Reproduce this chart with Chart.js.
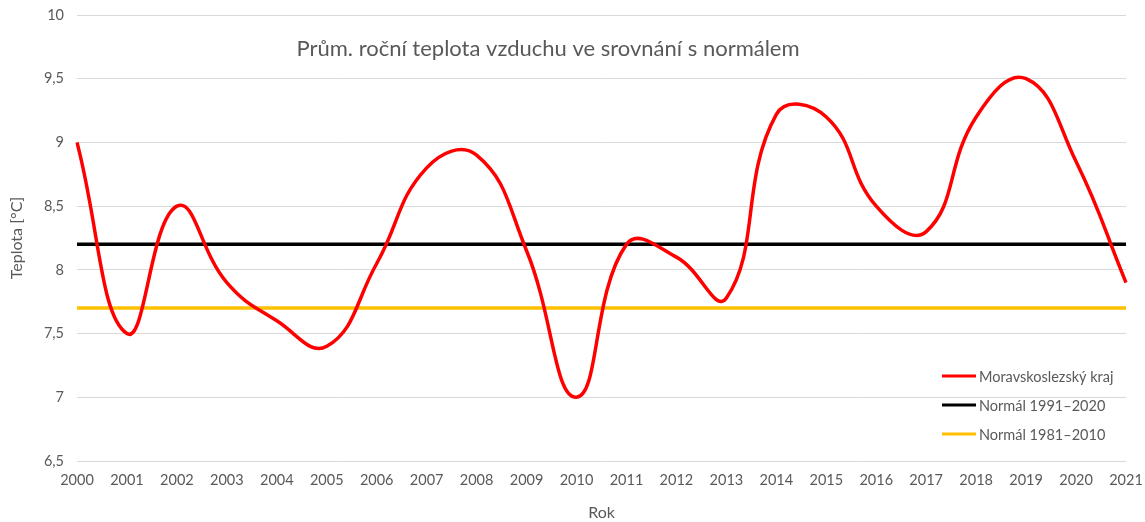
<!DOCTYPE html>
<html>
<head>
<meta charset="utf-8">
<script src="https://cdn.jsdelivr.net/npm/chart.js@4.4.1/dist/chart.umd.min.js"></script>
<style>
  html, body { margin: 0; padding: 0; background: #fff; }
  #wrap { position: relative; width: 1145px; height: 522px; }
</style>
</head>
<body>
<div id="wrap"><canvas id="c" width="1145" height="522"></canvas></div>
<script>
const years = ['2000','2001','2002','2003','2004','2005','2006','2007','2008','2009','2010','2011','2012','2013','2014','2015','2016','2017','2018','2019','2020','2021'];
const msk = [9.0, 7.5, 8.5, 7.9, 7.6, 7.4, 8.05, 8.8, 8.9, 8.15, 7.0, 8.2, 8.1, 7.78, 9.22, 9.2, 8.5, 8.3, 9.2, 9.5, 8.85, 7.9];
const normal9120 = 8.2;
const normal8110 = 7.7;
const seriesNames = ['Moravskoslezský kraj', 'Normál 1991–2020', 'Normál 1981–2010'];
const yTicks = { min: 6.5, max: 10, step: 0.5 };
const titleText = 'Prům. roční teplota vzduchu ve srovnání s normálem';
const FONT = 'Lato, "Open Sans", sans-serif';
const GRAY = '#595959';

const titlePlugin = {
  id: 'inTitle',
  afterDraw(chart) {
    const ctx = chart.ctx, a = chart.chartArea;
    ctx.save();
    ctx.font = '22px ' + FONT;
    ctx.fillStyle = GRAY;
    ctx.textAlign = 'center';
    ctx.textBaseline = 'middle';
    ctx.fillText(titleText, 548, 49);
    // legend
    const ds = chart.data.datasets;
    const order = [0, 1, 2];
    ctx.font = '14.5px ' + FONT;
    ctx.textAlign = 'left';
    order.forEach((i, k) => {
      const y = 376 + k * 29;
      ctx.strokeStyle = ds[i].borderColor;
      ctx.lineWidth = 3;
      ctx.beginPath();
      ctx.moveTo(942, y);
      ctx.lineTo(976, y);
      ctx.stroke();
      ctx.fillStyle = GRAY;
      ctx.fillText(ds[i].label, 979, y + 1);
    });
    ctx.restore();
  }
};

function zeroPad(s) { s.paddingTop = 0; s.paddingBottom = 0; s.paddingLeft = 0; s.paddingRight = 0; }

new Chart(document.getElementById('c'), {
  type: 'line',
  data: {
    labels: years,
    datasets: [
      { label: seriesNames[0], data: msk, borderColor: '#FF0000', borderWidth: 3.5, tension: 0.45, pointRadius: 0, order: 0 },
      { label: seriesNames[1], data: years.map(() => normal9120), borderColor: '#000000', borderWidth: 3.5, pointRadius: 0, order: 1 },
      { label: seriesNames[2], data: years.map(() => normal8110), borderColor: '#FFC000', borderWidth: 3.5, pointRadius: 0, order: 2 }
    ]
  },
  options: {
    responsive: false,
    animation: false,
    layout: { padding: { left: 0, right: 19, top: 15, bottom: 0 } },
    plugins: { legend: { display: false }, title: { display: false }, tooltip: { enabled: false } },
    scales: {
      x: {
        type: 'category',
        offset: false,
        grid: { display: false, drawTicks: false },
        border: { display: false },
        ticks: { color: GRAY, font: { family: FONT, size: 14.5 }, padding: 11, maxRotation: 0, autoSkip: false },
        title: { display: true, text: 'Rok', color: GRAY, font: { family: FONT, size: 16 }, padding: { top: 12, bottom: 0 } },
        afterFit(s) { s.height = 61; zeroPad(s); }
      },
      y: {
        min: yTicks.min, max: yTicks.max,
        grid: { color: '#d9d9d9', drawTicks: false, lineWidth: 1 },
        border: { display: false },
        ticks: { stepSize: yTicks.step, color: GRAY, font: { family: FONT, size: 14.5 }, padding: 13,
          callback: v => String(Math.round(v * 10) / 10).replace('.', ',') },
        title: { display: true, text: 'Teplota [°C]', color: GRAY, font: { family: FONT, size: 16 }, padding: { top: 7, bottom: 4 } },
        afterFit(s) { s.width = 77; zeroPad(s); }
      }
    }
  },
  plugins: [titlePlugin]
});
</script>
</body>
</html>
